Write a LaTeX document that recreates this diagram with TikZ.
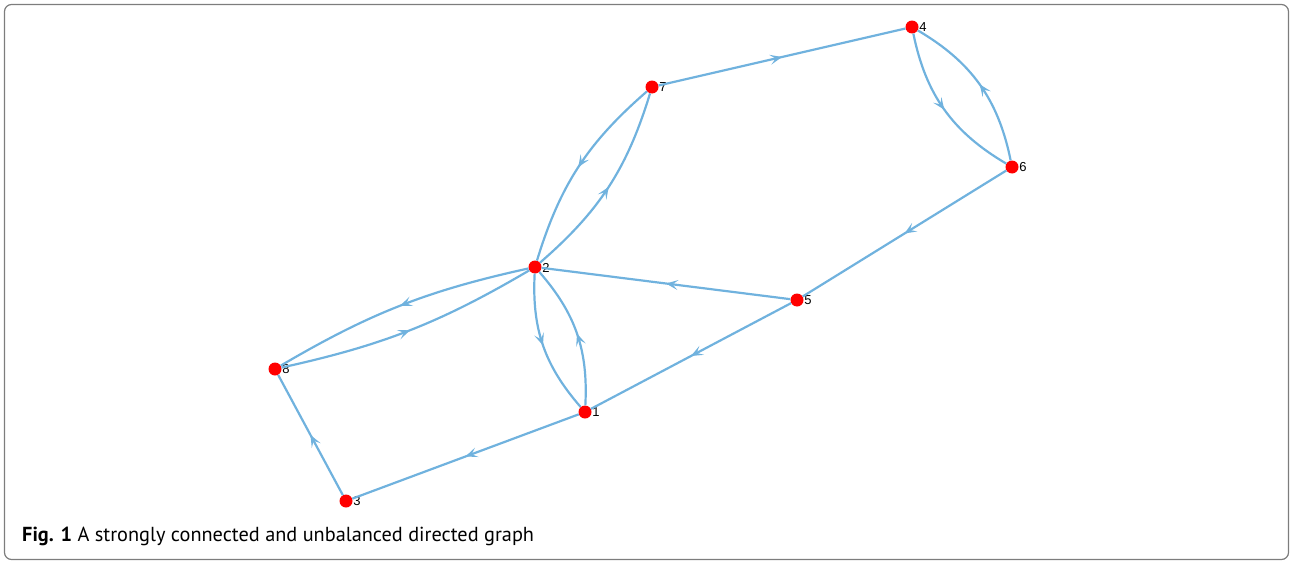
\documentclass[tikz,border=0pt]{standalone}
\usepackage{fontspec}
\setmainfont{PT Sans}
\newfontfamily\lblfont{Liberation Sans}
\usetikzlibrary{arrows.meta,decorations.markings}
\definecolor{edgeblue}{RGB}{112,178,222}
\definecolor{framegray}{RGB}{125,125,125}
\tikzset{
  vtx/.style={circle,fill=red,inner sep=0pt,minimum size=13pt,
    label={[font=\lblfont\fontsize{13}{13}\selectfont,inner sep=0pt,xshift=0.5pt,yshift=-0.5pt]right:#1}},
  edge/.style={color=edgeblue, line width=2.2pt, postaction={decorate},
    decoration={markings, mark=at position 0.5 with {\arrow{Stealth[length=12pt,width=10pt,inset=5.5pt]}}}},
}
\begin{document}
\begin{tikzpicture}[x=1pt,y=-1pt]
\useasboundingbox (0,0) rectangle (1291,562);
\draw[framegray, line width=1.2pt, rounded corners=7pt] (4.5,4.5) rectangle (1288.5,559.5);
% vertices
\node[vtx=4] (n4) at (912,27) {};
\node[vtx=7] (n7) at (652,87) {};
\node[vtx=6] (n6) at (1012,167) {};
\node[vtx=2] (n2) at (535,267) {};
\node[vtx=5] (n5) at (797,300) {};
\node[vtx=8] (n8) at (275,369) {};
\node[vtx=1] (n1) at (585,412) {};
\node[vtx=3] (n3) at (346,501) {};
% edges
\draw[edge] (n7) -- (n4);
\draw[edge] (n4) to[bend right=24] (n6);
\draw[edge] (n6) to[bend right=24] (n4);
\draw[edge] (n6) -- (n5);
\draw[edge] (n5) -- (n2);
\draw[edge] (n5) -- (n1);
\draw[edge] (n1) -- (n3);
\draw[edge] (n3) -- (n8);
\draw[edge] (n8) to[bend right=9] (n2);
\draw[edge] (n2) to[bend right=9] (n8);
\draw[edge] (n2) to[bend right=22] (n1);
\draw[edge] (n1) to[bend right=22] (n2);
\draw[edge] (n2) to[bend right=16] (n7);
\draw[edge] (n7) to[bend right=16] (n2);
% caption
\node[anchor=base west, inner sep=0pt, font=\fontsize{20.3}{24}\selectfont] (cap) at (22,541)
  {\textbf{Fig. 1} A strongly connected and unbalanced directed graph};
\end{tikzpicture}
\end{document}
